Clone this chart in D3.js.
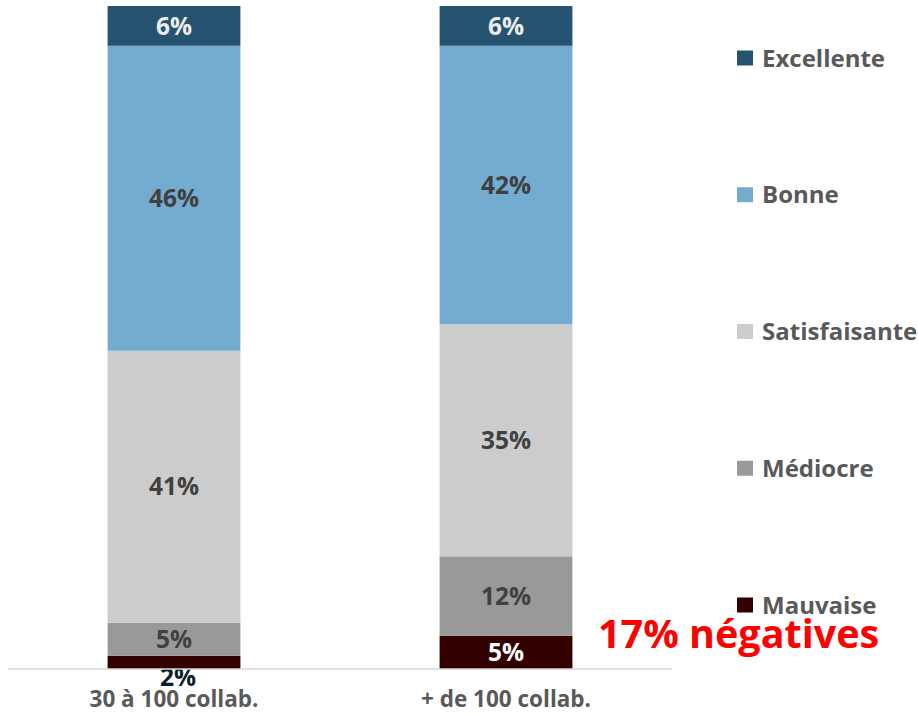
<!DOCTYPE html>
<html><head><meta charset="utf-8">
<script src="https://cdn.jsdelivr.net/npm/d3@7"></script>
<style>body{margin:0;background:#fff}svg{display:block}text{font-family:"Open Sans",sans-serif;font-weight:bold}</style>
</head><body>
<svg id="c" width="918" height="715"></svg>
<script>
const categories = ["30 à 100 collab.", "+ de 100 collab."];
const seriesNames = ["Mauvaise", "Médiocre", "Satisfaisante", "Bonne", "Excellente"];
const mauvaise = [2, 5];
const mediocre = [5, 12];
const satisfaisante = [41, 35];
const bonne = [46, 42];
const excellente = [6, 6];
const colors = ["#330000", "#999999", "#cccccc", "#73acd0", "#26536f"];
const labelColors = ["#0d1e2c", "#404040", "#404040", "#404040", "#ececec"];
const annotation = "17% négatives";

const seriesValues = [mauvaise, mediocre, satisfaisante, bonne, excellente];
const data = categories.map((c, i) => {
  const o = {cat: c};
  seriesNames.forEach((s, j) => o[s] = seriesValues[j][i]);
  return o;
});
const stack = d3.stack().keys(seriesNames)(data);

const svg = d3.select("#c");
const x = d3.scaleBand().domain(categories).range([8, 672]).paddingInner(0.6).paddingOuter(0.3);
const y = d3.scaleLinear().domain([0, 100]).range([669, 6]);

const g = svg.append("g");
stack.forEach((layer, j) => {
  g.selectAll(null).data(layer).enter().append("rect")
    .attr("x", d => x(d.data.cat))
    .attr("width", x.bandwidth())
    .attr("y", d => y(d[1]))
    .attr("height", d => y(d[0]) - y(d[1]))
    .attr("fill", colors[j]);
});

const xAxis = svg.append("g").attr("transform", "translate(0,669)")
  .call(d3.axisBottom(x).tickSize(0).tickPadding(0));
xAxis.select(".domain").attr("stroke", "#d9d9d9").attr("stroke-width", 1.5).attr("d", "M8,0H672");
xAxis.selectAll("text").attr("font-size", 22.5).attr("fill", "#595959")
  .attr("font-family", "'Open Sans', sans-serif").attr("font-weight", "bold")
  .attr("y", 38).attr("dy", 0);

stack.forEach((layer, j) => {
  g.selectAll(null).data(layer).enter().append("text")
    .attr("x", d => x(d.data.cat) + x.bandwidth() / 2 + (j === 0 && (y(d[0]) - y(d[1])) < 20 ? 4 : 0))
    .attr("y", d => {
      const h = y(d[0]) - y(d[1]);
      if (h < 20) return y(d[0]) + 8;
      return (y(d[0]) + y(d[1])) / 2;
    })
    .attr("dy", "0.36em")
    .attr("text-anchor", "middle")
    .attr("font-size", 24.5)
    .attr("fill", d => {
      if (j === 0 && (y(d[0]) - y(d[1])) >= 20) return "#ffffff";
      return labelColors[j];
    })
    .text(d => (d[1] - d[0]) + "%");
});

const legendY = d3.scalePoint().domain(seriesNames.slice().reverse()).range([58, 605]);
const lg = svg.append("g");
seriesNames.forEach((s, j) => {
  const yy = legendY(s);
  lg.append("rect").attr("x", 737).attr("y", yy - 7.5).attr("width", 16).attr("height", 15).attr("fill", colors[j]);
  lg.append("text").attr("x", 762).attr("y", yy).attr("dy", "0.36em")
    .attr("font-size", 24).attr("fill", "#595959").text(s);
});

svg.append("text").attr("x", 598).attr("y", 648).attr("font-size", 39.5)
  .attr("fill", "#ff0000").text(annotation);
</script>
</body></html>
